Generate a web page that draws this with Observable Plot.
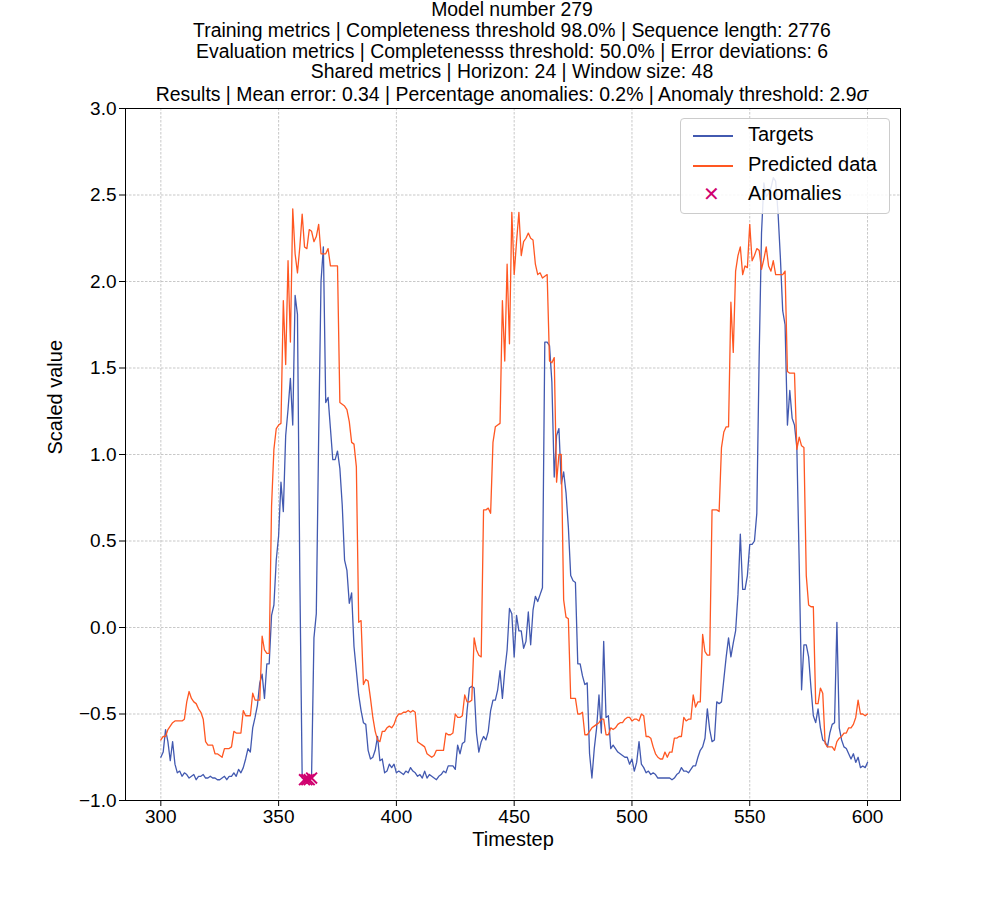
<!DOCTYPE html>
<html><head><meta charset="utf-8">
<script src="https://cdn.jsdelivr.net/npm/d3@7"></script>
<script src="https://cdn.jsdelivr.net/npm/@observablehq/plot@0.6"></script>
<style>
body{margin:0;background:#fff;font-family:"Liberation Sans",Arial,sans-serif;}
#wrap{position:relative;width:1000px;height:900px;}
.t{position:absolute;left:0;width:1024px;text-align:center;font-size:19.4px;line-height:22px;color:#000;}
#legend{position:absolute;left:680px;top:118px;width:208px;height:94px;border:1px solid #ccc;border-radius:4px;background:rgba(255,255,255,0.85);font-size:20px;}
.li{position:absolute;left:0;height:24px;width:200px;}
.li span{position:absolute;left:67px;top:0;white-space:nowrap;}
.ln{position:absolute;left:12px;top:12px;width:40px;height:1.5px;}
</style></head><body>
<div id="wrap">
<div class="t" style="top:-2px">Model number 279</div>
<div class="t" style="top:19px">Training metrics | Completeness threshold 98.0% | Sequence length: 2776</div>
<div class="t" style="top:40px">Evaluation metrics | Completenesss threshold: 50.0% | Error deviations: 6</div>
<div class="t" style="top:60px">Shared metrics | Horizon: 24 | Window size: 48</div>
<div class="t" style="top:83px">Results | Mean error: 0.34 | Percentage anomalies: 0.2% | Anomaly threshold: 2.9<i>σ</i></div>
<div id="chart"></div>
<div id="legend">
 <div class="li" style="top:4px"><div class="ln" style="background:#4259b0"></div><span>Targets</span></div>
 <div class="li" style="top:34px"><div class="ln" style="background:#ff5722"></div><span>Predicted data</span></div>
 <div class="li" style="top:63px"><span style="left:22px;color:#d0006f;font-size:20px">✕</span><span>Anomalies</span></div>
</div>
</div>
<script>
const startStep = 300;
const targets = [
-0.75,-0.72,-0.59,-0.66,-0.77,-0.66,-0.79,-0.84,-0.83,-0.86,-0.84,-0.85,-0.87,-0.86,-0.85,-0.88,-0.86,-0.86,-0.85,-0.87,
-0.87,-0.86,-0.87,-0.87,-0.88,-0.88,-0.87,-0.86,-0.88,-0.86,-0.86,-0.84,-0.86,-0.82,-0.84,-0.81,-0.76,-0.70,-0.72,-0.58,
-0.52,-0.45,-0.32,-0.27,-0.41,-0.21,-0.21,0.07,0.13,0.39,0.53,0.84,0.67,1.11,1.26,1.44,1.17,1.92,1.81,0.3,
-0.87,-0.88,-0.88,-0.88,-0.85,-0.06,0.08,1.1,2.0,2.2,1.3,1.33,1.15,0.97,0.97,1.02,0.92,0.71,0.39,0.33,
0.14,0.2,-0.11,-0.25,-0.39,-0.48,-0.55,-0.56,-0.71,-0.76,-0.75,-0.71,-0.63,-0.77,-0.76,-0.84,-0.83,-0.79,-0.81,-0.79,
-0.84,-0.83,-0.84,-0.85,-0.83,-0.84,-0.81,-0.83,-0.84,-0.86,-0.85,-0.87,-0.83,-0.87,-0.85,-0.86,-0.87,-0.88,-0.86,-0.85,
-0.83,-0.84,-0.80,-0.80,-0.80,-0.82,-0.68,-0.73,-0.67,-0.66,-0.48,-0.35,-0.34,-0.35,-0.61,-0.72,-0.66,-0.63,-0.65,-0.60,
-0.48,-0.42,-0.42,-0.36,-0.25,-0.41,-0.25,-0.13,0.11,0.08,-0.17,0.07,-0.02,-0.02,-0.12,-0.08,0.09,-0.10,0.10,0.18,
0.15,0.19,0.23,1.65,1.65,1.63,1.42,0.87,1.11,1.15,0.83,0.90,0.78,0.58,0.30,0.27,0.26,-0.21,-0.21,-0.28,
-0.33,-0.32,-0.73,-0.87,-0.70,-0.58,-0.39,-0.61,-0.08,-0.52,-0.51,-0.70,-0.68,-0.70,-0.72,-0.73,-0.74,-0.75,-0.75,-0.79,
-0.76,-0.83,-0.78,-0.66,-0.79,-0.81,-0.84,-0.83,-0.85,-0.84,-0.85,-0.87,-0.87,-0.87,-0.87,-0.87,-0.87,-0.88,-0.87,-0.85,
-0.84,-0.81,-0.83,-0.83,-0.84,-0.82,-0.80,-0.80,-0.75,-0.71,-0.69,-0.64,-0.47,-0.59,-0.66,-0.65,-0.43,-0.44,-0.43,-0.30,
-0.17,-0.06,-0.17,-0.09,-0.02,0.19,0.54,0.22,0.22,0.30,0.48,0.48,0.50,0.66,1.57,2.28,2.57,2.49,2.51,2.54,
2.60,2.58,2.40,2.14,1.83,1.75,1.17,1.37,1.21,1.17,1.04,0.37,-0.36,-0.10,-0.10,-0.17,-0.35,-0.51,-0.55,-0.47,
-0.58,-0.65,-0.66,-0.69,-0.61,-0.56,-0.55,0.03,-0.58,-0.65,-0.69,-0.70,-0.73,-0.76,-0.73,-0.78,-0.75,-0.81,-0.80,-0.81,
-0.78];
const predicted = [
-0.65,-0.63,-0.63,-0.59,-0.57,-0.55,-0.54,-0.54,-0.54,-0.54,-0.53,-0.43,-0.37,-0.41,-0.43,-0.44,-0.47,-0.49,-0.53,-0.66,
-0.68,-0.68,-0.68,-0.73,-0.73,-0.74,-0.75,-0.70,-0.70,-0.70,-0.69,-0.60,-0.61,-0.61,-0.61,-0.48,-0.51,-0.51,-0.51,-0.38,
-0.42,-0.42,-0.42,-0.05,-0.13,-0.15,-0.15,0.7,1.03,1.15,1.17,1.18,1.89,1.52,2.12,1.65,2.42,2.16,2.05,2.20,
2.39,2.20,2.19,2.30,2.29,2.23,2.26,2.33,2.16,2.16,2.16,2.19,2.09,2.09,2.09,2.09,1.30,1.29,1.28,1.26,
1.19,1.07,1.06,0.93,0.03,0.04,-0.33,-0.30,-0.31,-0.41,-0.52,-0.60,-0.65,-0.66,-0.60,-0.60,-0.58,-0.57,-0.58,-0.56,
-0.52,-0.50,-0.50,-0.49,-0.49,-0.48,-0.49,-0.48,-0.49,-0.66,-0.67,-0.68,-0.69,-0.73,-0.74,-0.75,-0.74,-0.71,-0.71,-0.71,
-0.71,-0.61,-0.62,-0.62,-0.61,-0.50,-0.52,-0.52,-0.51,-0.39,-0.43,-0.43,-0.42,-0.06,-0.13,-0.16,-0.17,0.68,0.68,0.69,
0.66,1.07,1.16,1.17,1.18,1.89,1.54,2.10,1.64,2.40,2.04,2.23,2.40,2.15,2.23,2.25,2.28,2.25,2.24,2.10,
2.04,2.05,2.02,2.03,2.04,1.54,1.53,1.56,0.84,1.0,1.0,0.16,0.06,0.05,-0.41,-0.41,-0.41,-0.50,-0.50,-0.49,
-0.62,-0.62,-0.60,-0.58,-0.57,-0.56,-0.55,-0.53,-0.53,-0.62,-0.62,-0.58,-0.59,-0.58,-0.56,-0.55,-0.55,-0.53,-0.52,-0.52,
-0.54,-0.53,-0.53,-0.54,-0.50,-0.51,-0.63,-0.63,-0.64,-0.69,-0.73,-0.75,-0.76,-0.76,-0.72,-0.75,-0.72,-0.72,-0.64,-0.64,
-0.63,-0.63,-0.52,-0.54,-0.53,-0.53,-0.39,-0.46,-0.43,-0.43,-0.04,-0.14,-0.16,-0.16,0.68,0.68,0.68,0.67,1.04,1.13,
1.16,1.16,1.88,1.59,2.06,2.15,2.20,2.04,2.09,2.08,2.33,2.12,2.15,2.19,2.18,2.07,2.13,2.20,2.09,2.06,
2.12,2.04,2.04,2.04,2.04,2.06,1.48,1.47,1.47,1.47,1.03,1.10,1.05,1.04,0.30,0.13,0.12,0.12,-0.44,-0.44,
-0.35,-0.38,-0.67,-0.69,-0.69,-0.69,-0.71,-0.66,-0.64,-0.63,-0.61,-0.61,-0.58,-0.58,-0.56,-0.52,-0.42,-0.50,-0.50,-0.51,
-0.50];
const anomalySteps = [361, 362, 363, 364];
const anomalyValues = [-0.88, -0.88, -0.88, -0.87];
const xTicks = [300, 350, 400, 450, 500, 550, 600];
const yTicks = [-1.0, -0.5, 0.0, 0.5, 1.0, 1.5, 2.0, 2.5, 3.0];

const tg = targets.map((v, i) => ({t: startStep + i, v}));
const pr = predicted.map((v, i) => ({t: startStep + i, v}));
const an = anomalySteps.map((t, i) => ({t, v: anomalyValues[i]}));

const chart = Plot.plot({
  width: 1000, height: 900,
  marginLeft: 125, marginRight: 100, marginTop: 108, marginBottom: 100,
  style: {fontFamily: "Liberation Sans, Arial, sans-serif", fontSize: "19px", color: "#000", background: "transparent"},
  x: {domain: [285, 614], ticks: xTicks, tickSize: 5, tickPadding: 6, label: null},
  y: {domain: [-1, 3], ticks: yTicks, tickFormat: d3.format(".1f"), tickSize: 5, tickPadding: 6, label: null},
  marks: [
    Plot.gridX(xTicks, {stroke: "#b0b0b0", strokeOpacity: 1, strokeDasharray: "2.5,1.5", strokeWidth: 0.7}),
    Plot.gridY(yTicks, {stroke: "#b0b0b0", strokeOpacity: 1, strokeDasharray: "2.5,1.5", strokeWidth: 0.7}),
    Plot.line(tg, {x: "t", y: "v", stroke: "#4259b0", strokeWidth: 1.3}),
    Plot.line(pr, {x: "t", y: "v", stroke: "#ff5722", strokeWidth: 1.3}),
    Plot.dot(an, {x: "t", y: "v", symbol: "times", r: 5, stroke: "#d0006f", strokeWidth: 2}),
    Plot.frame({stroke: "#000"}),
    Plot.axisX({ticks: xTicks, fontSize: 19}),
    Plot.axisY({ticks: yTicks, tickFormat: d3.format(".1f"), fontSize: 19}),
    Plot.text(["Timestep"], {frameAnchor: "bottom", dy: 45, fontSize: 20}),
    Plot.text(["Scaled value"], {frameAnchor: "left", dx: -70, rotate: -90, fontSize: 20})
  ]
});
document.getElementById("chart").appendChild(chart);
</script>
</body></html>
